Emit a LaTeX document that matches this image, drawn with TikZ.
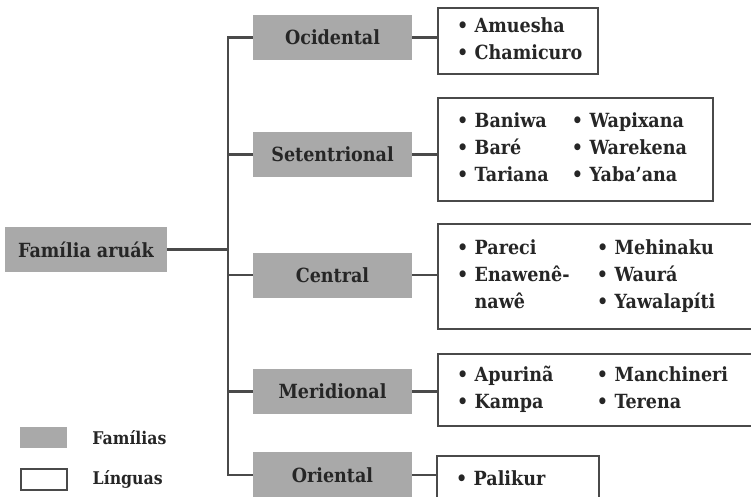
\documentclass[tikz,border=0pt]{standalone}
\usepackage{array}
\usepackage{fontspec}
\setmainfont{DejaVu Serif Condensed}
\usetikzlibrary{positioning}
\definecolor{cinza}{HTML}{A9A9A9}
\definecolor{borda}{HTML}{4A4A4A}
\definecolor{texto}{HTML}{262626}
\begin{document}
\begin{tikzpicture}[x=1pt,y=-1pt]

    \tikzset{
      familia/.style={
        fill=cinza,
        text=texto,
        inner sep=0pt,
        minimum width=159pt,
        minimum height=45pt,
        font=\fontsize{19.5}{27}\selectfont\bfseries,
      },
      lingua/.style={
        draw=borda,
        line width=2pt,
        fill=white,
        text=texto,
        anchor=north west,
        inner xsep=19pt,
        inner ysep=0pt,
        align=left,
        font=\fontsize{19.5}{27}\selectfont\bfseries,
      },
      ligacao/.style={draw=borda, line width=2.2pt},
      legenda/.style={text=texto, inner sep=0pt, font=\fontsize{17.5}{20}\selectfont\bfseries},
    }
    \useasboundingbox (0,0) rectangle (751,497);
    \clip (0,0) rectangle (751,497);

	\node[familia, minimum width=162pt] (aruak) at (86,249.5) {Família aruák};
	\node[familia] (ocidental) at (332.5,37.5) {Ocidental};
	\node[familia] (setentrional) at (332.5,154.5) {Setentrional};
	\node[familia] (central) at (332.5,275) {Central};
	\node[familia] (meridional) at (332.5,391.5) {Meridional};
	\node[familia, minimum height=46pt] (oriental) at (332.5,475) {Oriental};

	\node[lingua, minimum width=160pt, minimum height=66pt, text width=122pt] (l-ocidental) at (437,7)
	  {\begin{tabular}{@{}l@{}}
	   \textbullet\ Amuesha\\
	   \textbullet\ Chamicuro
	   \end{tabular}};
	\node[lingua, minimum width=275pt, minimum height=103pt, text width=237pt] (l-setentrional) at (437,97)
	  {\begin{tabular}{@{}p{115pt}@{}l@{}}
	   \textbullet\ Baniwa & \textbullet\ Wapixana\\
	   \textbullet\ Baré & \textbullet\ Warekena\\
	   \textbullet\ Tariana & \textbullet\ Yaba'ana
	   \end{tabular}};
	\node[lingua, minimum width=340pt, minimum height=105pt, text width=302pt] (l-central) at (437,223)
	  {\begin{tabular}{@{}p{140pt}@{}l@{}}
	   \textbullet\ Pareci & \textbullet\ Mehinaku\\
	   \textbullet\ Enawenê- & \textbullet\ Waurá\\
	   \phantom{\textbullet\ }nawê & \textbullet\ Yawalapíti
	   \end{tabular}};
	\node[lingua, minimum width=340pt, minimum height=72pt, text width=302pt] (l-meridional) at (437,353)
	  {\begin{tabular}{@{}p{140pt}@{}l@{}}
	   \textbullet\ Apurinã & \textbullet\ Manchineri\\
	   \textbullet\ Kampa & \textbullet\ Terena
	   \end{tabular}};
	\node[lingua, minimum width=162pt, minimum height=44pt, text width=124pt] (l-oriental) at (436,455)
	  {\textbullet\ Palikur};

	% tronco da arvore
	\coordinate (tronco) at (228,0);
	\draw[ligacao] (aruak.east) -- (aruak.east -| tronco);
	\draw[ligacao] (ocidental.west) -| (tronco |- oriental.west) -- (oriental.west);
	\foreach \f in {setentrional,central,meridional}
	  \draw[ligacao] (\f.west) -- (\f.west -| tronco);
	\foreach \f in {ocidental,setentrional,central,meridional,oriental}
	  \draw[ligacao] (\f.east) -- (\f.east -| l-\f.west);

	% legenda
	\node[fill=cinza, minimum width=47pt, minimum height=21pt, inner sep=0pt] (chave-familia) at (43.5,437.5) {};
	\node[draw=borda, line width=2pt, minimum width=46pt, minimum height=21pt, inner sep=0pt] (chave-lingua) at (43.5,479) {};
	\node[legenda, right=25pt of chave-familia] (txt-familia) {Famílias};
	\node[legenda, right=25pt of chave-lingua] (txt-lingua) {Línguas};

\end{tikzpicture}
\end{document}
